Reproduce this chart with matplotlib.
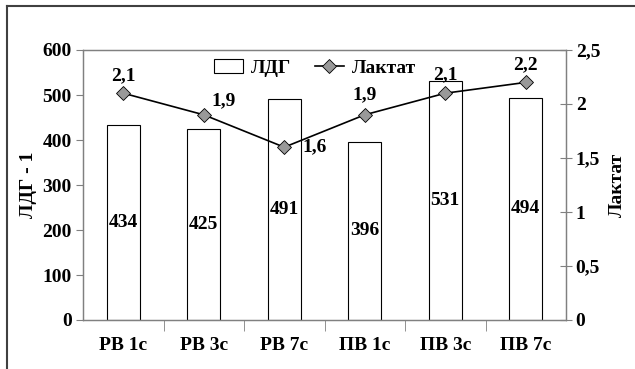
import matplotlib
matplotlib.use("Agg")
import matplotlib.pyplot as plt
from matplotlib.lines import Line2D

categories = ["РВ 1с", "РВ 3с", "РВ 7с", "ПВ 1с", "ПВ 3с", "ПВ 7с"]
ldg = [434, 425, 491, 396, 531, 494]
lactate = [2.1, 1.9, 1.6, 1.9, 2.1, 2.2]
lactate_labels = ["2,1", "1,9", "1,6", "1,9", "2,1", "2,2"]
lactate_ticks = [0, 0.5, 1, 1.5, 2, 2.5]
lactate_ticklabels = ["0", "0,5", "1", "1,5", "2", "2,5"]

plt.rcParams['font.family'] = ['Liberation Serif', 'DejaVu Serif']
plt.rcParams['font.weight'] = 'bold'
plt.rcParams['font.size'] = 14

fig = plt.figure(figsize=(6.35, 3.69), dpi=100)
ax = fig.add_axes([83/635, 1-320/369, 483/635, 270/369])
ax2 = ax.twinx()

x = list(range(len(categories)))
grey = "#808080"

ax.bar(x, ldg, width=0.41, color="white", edgecolor="black", linewidth=0.8, zorder=2)
for xi, v in zip(x, ldg):
    ax.text(xi, v / 2, str(v), ha="center", va="center", fontsize=14, fontweight="bold")

ax.set_ylim(0, 600)
ax.set_xlim(-0.5, len(categories) - 0.5)
ax.set_yticks(range(0, 601, 100))
ax.set_xticks(x)
ax.set_xticklabels(categories, fontweight="bold")
ax.set_xticks([i + 0.5 for i in x[:-1]], minor=True)
ax.tick_params(axis="x", which="major", length=0, pad=12)
ax.tick_params(axis="x", which="minor", length=8, direction="out", color=grey)
ax.tick_params(axis="y", length=5, direction="out", color=grey, pad=3)
ax.set_ylabel("ЛДГ - 1", fontweight="bold", labelpad=4)

ax2.plot(x, lactate, color="black", linewidth=1.2, marker="D", markersize=7,
         markerfacecolor="#999999", markeredgecolor="black", markeredgewidth=0.6, zorder=3)
offsets = [(0, 17), (20, 14), (30, 0), (0, 20), (0, 18), (0, 18)]
for xi, v, lab, off in zip(x, lactate, lactate_labels, offsets):
    ax2.annotate(lab, (xi, v), textcoords="offset pixels", xytext=off,
                 ha="center", va="center", fontsize=14, fontweight="bold")
ax2.set_ylim(0, 2.5)
ax2.set_yticks(lactate_ticks)
ax2.set_yticklabels(lactate_ticklabels)
ax2.tick_params(axis="y", length=8, direction="inout", color=grey, pad=3)
ax2.set_ylabel("Лактат", fontweight="bold", labelpad=6)

for a in (ax, ax2):
    for s in a.spines.values():
        s.set_color(grey)
        s.set_linewidth(0.9)

handles = [
    plt.Rectangle((0, 0), 1, 1, facecolor="white", edgecolor="black", linewidth=0.8),
    Line2D([], [], color="black", linewidth=1.2, marker="D", markersize=7,
           markerfacecolor="#999999", markeredgecolor="black", markeredgewidth=0.6),
]
ax2.legend(handles, ["ЛДГ", "Лактат"], loc="center", bbox_to_anchor=(0.48, 0.933),
           ncol=2, frameon=False, handlelength=1.5, columnspacing=1.2,
           handletextpad=0.4, prop={"weight": "bold", "size": 14})

# outer frame lines
fig.add_artist(Line2D([7/635, 7/635], [0, 1-6/369], color="#404040", linewidth=1.5))
fig.add_artist(Line2D([7/635, 1], [1-6/369, 1-6/369], color="#404040", linewidth=1.5))

fig.savefig("out.png", dpi=100)
